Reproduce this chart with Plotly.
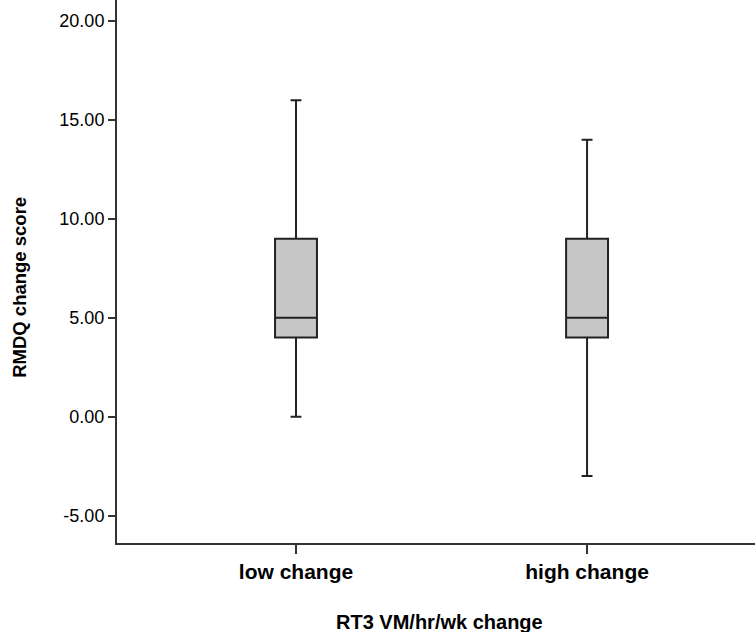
import plotly.graph_objects as go

categories = ["low change", "high change"]
q1 = [4.0, 4.0]
median = [5.0, 5.0]
q3 = [9.0, 9.0]
lower_whisker = [0.0, -3.0]
upper_whisker = [16.0, 14.0]
y_ticks = [-5, 0, 5, 10, 15, 20]
y_tick_labels = ["-5.00", "0.00", "5.00", "10.00", "15.00", "20.00"]

x_pos = list(range(len(categories)))

fig = go.Figure()
fig.add_trace(go.Box(
    x=x_pos,
    q1=q1, median=median, q3=q3,
    lowerfence=lower_whisker, upperfence=upper_whisker,
    fillcolor="#c6c6c6",
    line=dict(color="#222222", width=2),
    width=0.144,
    whiskerwidth=0.26,
    boxpoints=False,
    hoverinfo="skip",
    showlegend=False,
))

fig.update_layout(
    width=755, height=632,
    margin=dict(l=117, r=0, t=0, b=89),
    paper_bgcolor="white", plot_bgcolor="white",
    font=dict(family="Liberation Sans, Arial, sans-serif", color="#000"),
    xaxis=dict(
        range=[-0.615, 1.577],
        tickvals=x_pos, ticktext=[f"<b>{c}</b>" for c in categories],
        ticks="outside", ticklen=9, tickwidth=1.5, tickcolor="#333",
        showline=True, linecolor="#333", linewidth=2,
        showgrid=False, zeroline=False,
        tickfont=dict(size=21, color="#000"),
    ),
    yaxis=dict(
        range=[-6.38, 21.06],
        tickvals=y_ticks, ticktext=y_tick_labels,
        ticks="outside", ticklen=7, tickwidth=1.5, tickcolor="#333",
        showline=True, linecolor="#333", linewidth=2,
        showgrid=False, zeroline=False,
        tickfont=dict(size=18, color="#000"),
    ),
    annotations=[
        dict(
            text="<b>RT3 VM/hr/wk change</b>",
            xref="paper", yref="paper", x=0.506, y=-0.145,
            xanchor="center", yanchor="middle", showarrow=False,
            font=dict(size=20, color="#000"),
        ),
        dict(
            text="<b>RMDQ change score</b>",
            xref="paper", yref="paper", x=-0.152, y=0.47,
            xanchor="center", yanchor="middle", showarrow=False,
            textangle=-90,
            font=dict(size=18.5, color="#000"),
        ),
    ],
)

fig.write_html("out.html", config={"displayModeBar": False},
               post_script="document.body.style.margin='0';")
